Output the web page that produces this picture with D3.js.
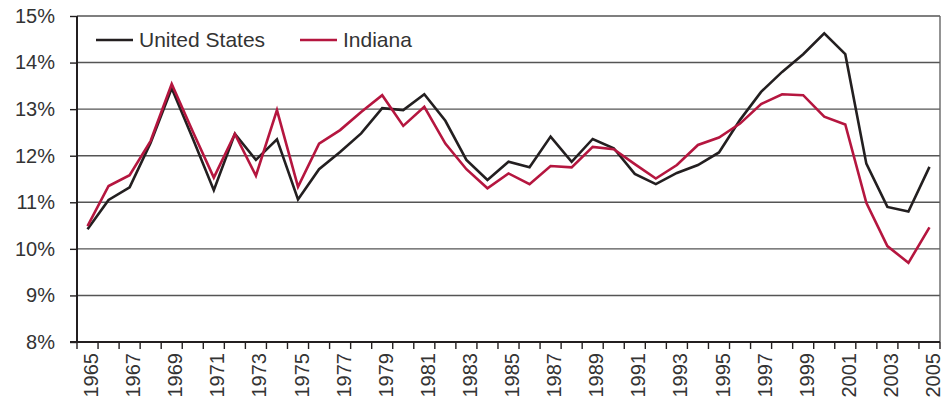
<!DOCTYPE html>
<html>
<head>
<meta charset="utf-8">
<script src="https://cdn.jsdelivr.net/npm/d3@7"></script>
<style>
  body { margin: 0; background: #fff; }
  svg { display: block; font-family: "Liberation Sans", Arial, sans-serif; }
</style>
</head>
<body>
<div id="chart"></div>
<script>
var years = d3.range(1965, 2006);
var usValues = [10.42, 11.05, 11.32, 12.28, 13.45, 12.37, 11.26, 12.47, 11.91, 12.35,
                11.06, 11.71, 12.08, 12.48, 13.02, 12.98, 13.32, 12.75, 11.91, 11.48,
                11.87, 11.75, 12.41, 11.87, 12.36, 12.16, 11.61, 11.39, 11.63, 11.80,
                12.07, 12.77, 13.37, 13.80, 14.18, 14.63, 14.18, 11.83, 10.90, 10.80, 11.76];
var indianaValues = [10.49, 11.35, 11.58, 12.32, 13.54, 12.52, 11.53, 12.47, 11.57, 12.98,
                     11.33, 12.26, 12.55, 12.94, 13.30, 12.64, 13.05, 12.26, 11.71, 11.30,
                     11.62, 11.39, 11.78, 11.75, 12.19, 12.14, 11.82, 11.51, 11.80, 12.23,
                     12.39, 12.69, 13.11, 13.32, 13.30, 12.84, 12.67, 10.99, 10.06, 9.70, 10.46];
var yTicks = [8, 9, 10, 11, 12, 13, 14, 15];
var labelYears = years.filter(function(d) { return (d - 1965) % 2 === 0; });
var seriesNames = ["United States", "Indiana"];

var width = 952, height = 400;
var plotLeft = 77, plotRight = 940, plotTop = 16, plotBottom = 342;
var colors = ["#231f20", "#b5163f"];

var svg = d3.select("#chart").append("svg")
    .attr("width", width)
    .attr("height", height);

var x = d3.scaleBand().domain(years).range([plotLeft, plotRight]).padding(0);
var y = d3.scaleLinear().domain([8, 15]).range([plotBottom, plotTop]);
var cx = function(d) { return x(d) + x.bandwidth() / 2; };

// grid lines
svg.selectAll(".grid").data(yTicks.slice(1))
  .enter().append("line")
    .attr("x1", plotLeft).attr("x2", plotRight)
    .attr("y1", function(d) { return y(d); })
    .attr("y2", function(d) { return y(d); })
    .attr("stroke", "#555")
    .attr("stroke-width", 1.4);

// right border
svg.append("line")
    .attr("x1", plotRight).attr("x2", plotRight)
    .attr("y1", plotTop).attr("y2", plotBottom)
    .attr("stroke", "#666")
    .attr("stroke-width", 1.4);

// y axis
var yAxis = svg.append("g")
    .attr("transform", "translate(" + plotLeft + ",0)")
    .call(d3.axisLeft(y).tickValues(yTicks).tickSize(7).tickPadding(15)
      .tickFormat(function(d) { return d + "%"; }));
yAxis.select(".domain").remove();
yAxis.selectAll(".tick line").attr("stroke", "#231f20").attr("stroke-width", 1.4);
yAxis.selectAll(".tick text")
    .attr("fill", "#333")
    .style("font-size", "20px")
    .style("font-family", "'Liberation Sans', Arial, sans-serif");

svg.append("line")
    .attr("x1", plotLeft).attr("x2", plotLeft)
    .attr("y1", plotTop).attr("y2", plotBottom + 1)
    .attr("stroke", "#231f20")
    .attr("stroke-width", 2);

// x axis ticks at band edges
var edges = years.map(function(d) { return x(d); }).concat([plotRight]);
svg.selectAll(".xtick").data(edges)
  .enter().append("line")
    .attr("x1", function(d) { return d; })
    .attr("x2", function(d) { return d; })
    .attr("y1", plotBottom).attr("y2", plotBottom + 7)
    .attr("stroke", "#231f20")
    .attr("stroke-width", 1.4);

svg.append("line")
    .attr("x1", plotLeft - 7).attr("x2", plotRight)
    .attr("y1", plotBottom).attr("y2", plotBottom)
    .attr("stroke", "#231f20")
    .attr("stroke-width", 2.2);

svg.selectAll(".xlabel").data(labelYears)
  .enter().append("text")
    .attr("transform", function(d) {
      return "translate(" + (x(d) + x.bandwidth()) + "," + (plotBottom + 11) + ") rotate(-90)";
    })
    .attr("text-anchor", "end")
    .attr("fill", "#333")
    .style("font-size", "20px")
    .text(function(d) { return d; });

// lines
var line = d3.line()
    .x(function(d, i) { return cx(years[i]); })
    .y(function(d) { return y(d); });

[usValues, indianaValues].forEach(function(vals, i) {
  svg.append("path")
      .datum(vals)
      .attr("d", line)
      .attr("fill", "none")
      .attr("stroke", colors[i])
      .attr("stroke-width", 2.6)
      .attr("stroke-linejoin", "miter");
});

// legend
var legendX = [96, 300];
var leg = svg.selectAll(".legend").data(seriesNames)
  .enter().append("g")
    .attr("transform", function(d, i) { return "translate(" + legendX[i] + ",40)"; });
leg.append("line")
    .attr("x1", 0).attr("x2", 37)
    .attr("stroke", function(d, i) { return colors[i]; })
    .attr("stroke-width", 2.6);
leg.append("text")
    .attr("x", 43)
    .attr("dy", "0.35em")
    .attr("fill", "#333")
    .style("font-size", "21px")
    .text(function(d) { return d; });
</script>
</body>
</html>
